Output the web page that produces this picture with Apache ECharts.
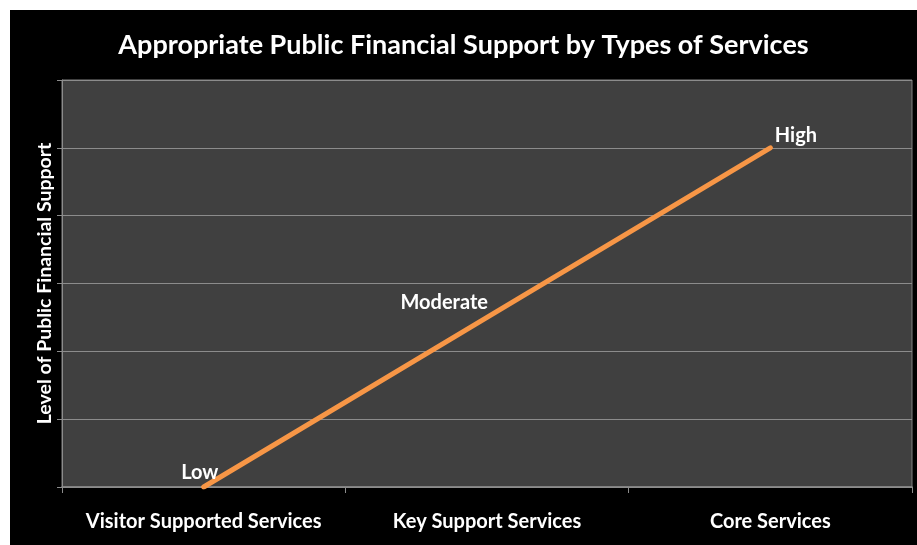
<!DOCTYPE html>
<html><head><meta charset="utf-8">
<script src="https://cdn.jsdelivr.net/npm/echarts@6/dist/echarts.min.js"></script>
<style>
html,body{margin:0;padding:0;background:#fff;width:917px;height:545px;overflow:hidden}
#c{position:absolute;left:10px;top:10px;width:907px;height:535px;background:#000}
</style></head><body>
<div id="c"></div>
<script>
const categories = ["Visitor Supported Services", "Key Support Services", "Core Services"];
const values = [0, 2.5, 5];
const pointLabels = ["Low", "Moderate", "High"];
const titleText = "Appropriate Public Financial Support by Types of Services";
const yAxisName = "Level of Public Financial Support";

const FONT = "Lato";
const labelPos = [
  {position: [-22, -24]},
  {position: [-86, -24]},
  {position: [5, -22]}
];
const chart = echarts.init(document.getElementById('c'));
chart.setOption({
  backgroundColor: '#000',
  animation: false,
  title: {
    text: titleText, left: 'center', top: 17,
    textStyle: {color: '#fff', fontSize: 27, fontWeight: 'bold', fontFamily: FONT}
  },
  grid: {left: 52, top: 70, right: 5, bottom: 58, show: true, backgroundColor: '#404040', borderColor: '#808080', borderWidth: 1},
  xAxis: {
    type: 'category', data: categories, boundaryGap: true,
    axisLine: {lineStyle: {color: '#8c8c8c', width: 1.5}},
    axisTick: {show: true, interval: 0, length: 6, lineStyle: {color: '#8c8c8c'}},
    axisLabel: {interval: 0, color: '#fff', fontSize: 20, fontWeight: 'bold', fontFamily: FONT, margin: 25}
  },
  yAxis: {
    type: 'value', min: 0, max: 6, interval: 1,
    name: yAxisName, nameLocation: 'middle', nameGap: 7, nameRotate: 90,
    nameTextStyle: {color: '#fff', fontSize: 19.5, fontWeight: 'bold', fontFamily: FONT},
    axisLabel: {show: false},
    axisLine: {show: true, lineStyle: {color: '#8c8c8c'}},
    axisTick: {show: true, length: 5, lineStyle: {color: '#8c8c8c'}},
    splitLine: {lineStyle: {color: '#8c8c8c', width: 1}}
  },
  series: [{
    type: 'line',
    data: values.map((v, i) => ({
      value: v,
      label: Object.assign({show: true, formatter: pointLabels[i], color: '#fff', fontSize: 20, fontWeight: 'bold', fontFamily: FONT, align: 'left', verticalAlign: 'top'}, labelPos[i])
    })),
    showSymbol: true, symbol: 'circle', symbolSize: 1,
    lineStyle: {color: '#f79646', width: 5, cap: 'round'},
    itemStyle: {color: '#f79646'}
  }]
});
</script></body></html>
